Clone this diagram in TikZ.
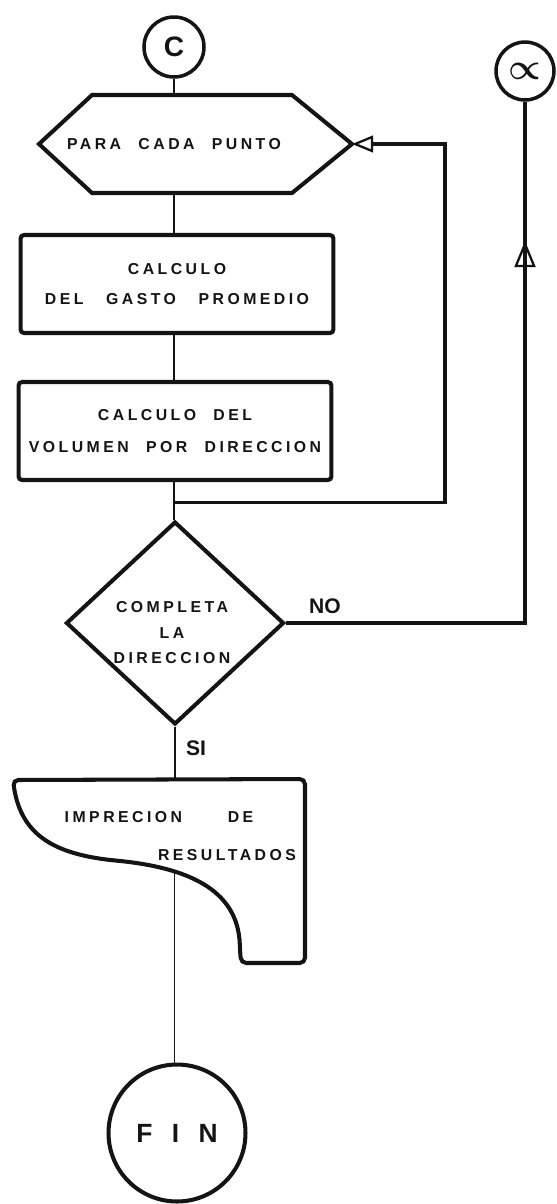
\documentclass[tikz,border=0pt]{standalone}
\usepackage{fontspec}
\setsansfont{Liberation Sans}
\newfontfamily\letterfont[LetterSpace=22,WordSpace=2.2]{Liberation Sans}
\usetikzlibrary{arrows.meta,calc,shapes.geometric,decorations.markings}
\definecolor{ink}{HTML}{141414}

\tikzset{
  heavy/.style={draw=ink,line width=2.3pt},
  lettering/.style={font=\letterfont\bfseries\fontsize{9}{17.5}\selectfont,align=center,inner sep=0pt},
  box/.style={heavy,lettering,rounded corners=2pt,minimum width=6.26cm,minimum height=1.96cm},
  conn/.style={heavy,circle,line width=2pt,inner sep=0pt},
  decision/.style={heavy,diamond,minimum width=4.36cm,minimum height=4.06cm,inner sep=0pt},
  flow/.style={draw=ink,line width=0.85pt},
  back/.style={draw=ink,line width=1.9pt},
  tag/.style={font=\sffamily\bfseries\fontsize{12}{12}\selectfont},
  openhead/.style={-{Triangle[open,length=12pt,width=9.5pt,line width=1.3pt]}},
  upmark/.style={postaction={decorate},decoration={markings,mark=at position #1 with {\arrow{Triangle[open,length=15pt,width=12pt,line width=1.3pt]}}}}
}

\begin{document}
\begin{tikzpicture}[x=0.02cm,y=-0.02cm,text=ink]
  \useasboundingbox[fill=white] (0,0) rectangle (556,1204);
  \node[conn,minimum size=1.2cm,font=\sffamily\bfseries\fontsize{16}{16}\selectfont] (c) at (174,47) {C};
  \node[conn,minimum size=1.16cm,font=\fontsize{20}{20}\selectfont\boldmath] (alpha) at (525,71) {$\propto$};
  \node[lettering,minimum height=1.96cm] (para) at (174,144) {PARA CADA PUNTO};
  \draw[heavy] ($(para.center)+(-135,0)$) -- ++(53,-49) -- ++(200,0) -- ++(60,49) coordinate (para e) -- ++(-60,49) -- ++(-200,0) -- cycle;
  \node[box] (gasto) at (177,284) {CALCULO\\DEL\hspace{3pt} GASTO\hspace{3pt} PROMEDIO};
  \node[box] (volumen) at (175,431) {CALCULO DEL\\[1pt]VOLUMEN POR DIRECCION};
  \node[decision] (dec) at (175,623) {};
  \node[lettering,font=\letterfont\bfseries\fontsize{9}{14.5}\selectfont] (dectext) at (172,633) {COMPLETA\\LA\\DIRECCION};
  \node[lettering] (imp) at (159,817) {IMPRECION\hspace{26pt}DE};
  \node[lettering] (res) at (227,855) {RESULTADOS};
  \draw[heavy,rounded corners=3pt] (13,780) .. controls (20,832) and (50,852) .. (110,860)
    .. controls (185,867) and (238,888) .. (240,950) coordinate[pos=0.32] (printout)
    -- (241,963) -- (305,963) -- (305,779) -- cycle;
  \coordinate (prt top) at (174,779);
  \node[conn,line width=2.3pt,minimum size=2.74cm,font=\sffamily\bfseries\fontsize{15}{15}\selectfont] (fin) at (177,1133) {F\hspace{11pt}I\hspace{11pt}N};
  \node[tag] (no) at (325,606) {NO};
  \node[tag] (si) at (196,748) {SI};

  \draw[flow] (c.south) -- (para.north);
  \draw[flow] (para.south) -- (para.south |- gasto.north);
  \draw[flow] (para.south |- gasto.south) -- (para.south |- volumen.north);
  \draw[flow] (para.south |- volumen.south) -- (para.south |- dec.north) coordinate[pos=0.55] (join);
  \draw[back,openhead] (join) -- ++(271,0) |- (para e);
  \draw[back,upmark=0.817] (dec.east) -| (alpha.south);
  \draw[flow] (dec.south) -- (dec.south |- prt top);
  \draw[flow] (printout) -- (printout |- fin.north);
\end{tikzpicture}
\end{document}
